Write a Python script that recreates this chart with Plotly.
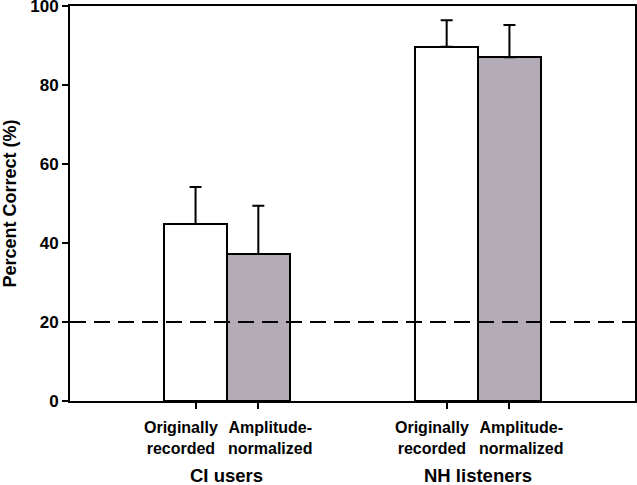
import plotly.graph_objects as go

conditions = ["Originally<br>recorded", "Amplitude-<br>normalized"]
groups = ["CI users", "NH listeners"]
original_means = [44.8, 89.7]
original_err = [9.4, 6.7]
normalized_means = [37.2, 87.0]
normalized_err = [12.2, 8.2]
chance_level = 20
y_ticks = [0, 20, 40, 60, 80, 100]

orig_x = [0, 4]
norm_x = [1, 5]

FONT = "Liberation Sans, Arial, sans-serif"

fig = go.Figure()
fig.add_trace(go.Bar(
    x=orig_x, y=original_means, width=1,
    marker=dict(color="white", line=dict(color="black", width=2)),
    error_y=dict(type="data", symmetric=False, array=original_err,
                 arrayminus=[0, 0], color="black", thickness=2, width=6),
    showlegend=False, hoverinfo="skip",
))
fig.add_trace(go.Bar(
    x=norm_x, y=normalized_means, width=1,
    marker=dict(color="#b3acb6", line=dict(color="black", width=2)),
    error_y=dict(type="data", symmetric=False, array=normalized_err,
                 arrayminus=[0, 0], color="black", thickness=2, width=6),
    showlegend=False, hoverinfo="skip",
))

fig.add_shape(type="line", xref="paper", yref="y", x0=0, x1=1,
              y0=chance_level, y1=chance_level,
              line=dict(color="black", width=2, dash="16px,8px"))

# condition labels under each bar
for x, lab, shift in ([(x, conditions[0], -15) for x in orig_x] +
                      [(x, conditions[1], 12) for x in norm_x]):
    fig.add_annotation(x=x, xref="x", y=0, yref="paper", yanchor="top",
                       yshift=-16, xshift=shift, text=lab, showarrow=False,
                       align="center",
                       font=dict(family=FONT, size=16, color="black", weight="bold"))

for gx, g in zip([0.5, 4.5], groups):
    fig.add_annotation(x=gx, xref="x", y=0, yref="paper", yanchor="middle",
                       yshift=-74, text=g, showarrow=False,
                       font=dict(family=FONT, size=18.5, color="black", weight="bold"))

fig.update_layout(
    width=637, height=485,
    margin=dict(l=70, r=2, t=6, b=84),
    plot_bgcolor="white", paper_bgcolor="white",
    bargap=0,
    xaxis=dict(range=[-2, 7], tickvals=orig_x + norm_x, showticklabels=False,
               automargin=False,
               showgrid=False, zeroline=False, showline=True, linecolor="black",
               linewidth=2, mirror=True, ticks="outside", ticklen=6, tickwidth=2,
               tickcolor="black"),
    yaxis=dict(range=[0, 100], tickvals=y_ticks, showgrid=False, zeroline=False,
               automargin=False,
               showline=True, linecolor="black", linewidth=2, mirror=True,
               ticks="outside", ticklen=6, tickwidth=2, tickcolor="black",
               ticklabeloverflow="allow",
               tickfont=dict(family=FONT, size=17, color="black", weight="bold"),
               title=dict(text="Percent Correct (%)", standoff=16,
                          font=dict(family=FONT, size=18, color="black", weight="bold"))),
)

fig.write_html("out.html", config={"displayModeBar": False},
               post_script="document.body.style.margin='0';")
